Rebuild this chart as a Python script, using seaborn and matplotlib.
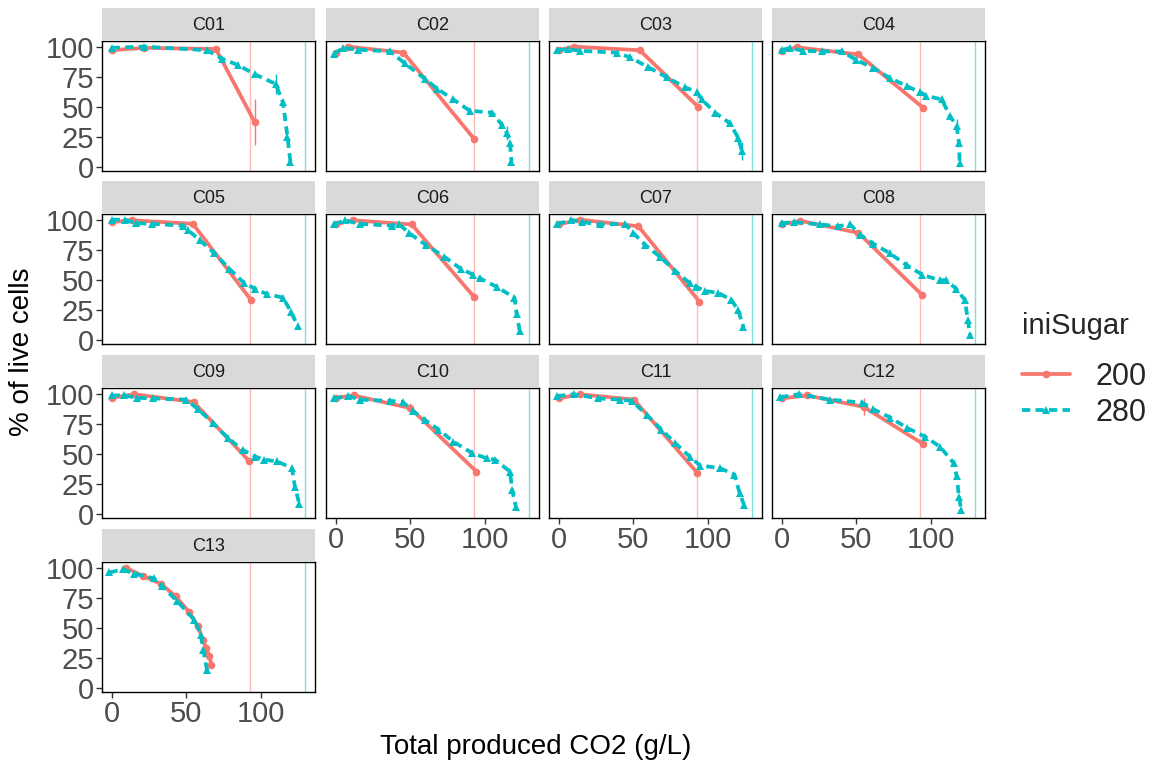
import numpy as np
import pandas as pd
import matplotlib
matplotlib.use("Agg")
import matplotlib.pyplot as plt
import seaborn as sns
from matplotlib.lines import Line2D

# ---------------- data ----------------
panels = ["C01", "C02", "C03", "C04", "C05", "C06", "C07",
          "C08", "C09", "C10", "C11", "C12", "C13"]
sugar_levels = ["200", "280"]
max_co2 = [93, 130]          # theoretical max CO2 per iniSugar (vertical lines)

x_c01_200 = [0, 22, 70, 96]
y_c01_200 = [97, 99, 98, 37]
x_c01_280 = [0, 21.5, 64, 74, 85, 96, 110, 115, 118, 120]
y_c01_280 = [99, 100, 97, 90, 84.5, 77, 69, 53.5, 25, 4]

x_c02_200 = [0, 8.5, 45.5, 93]
y_c02_200 = [95, 100, 95, 23]
x_c02_280 = [-1, 5, 15, 36.5, 46.5, 60, 68, 79, 90, 105, 111.5, 115, 117, 118]
y_c02_280 = [94, 99, 97.5, 96, 86, 73, 65, 56, 46.5, 45, 35, 28, 20, 4]

x_c03_200 = [0, 10, 54.5, 93.5]
y_c03_200 = [97, 100, 97, 50]
x_c03_280 = [-1, 6, 14, 39, 48, 60, 72.5, 85, 93, 96, 105, 115, 120.5, 123]
y_c03_280 = [97, 98, 96.5, 95, 91, 83, 74.5, 66, 62, 56, 45, 36, 24, 13]

x_c04_200 = [0, 10, 51.5, 95]
y_c04_200 = [96, 99.5, 93.5, 49]
x_c04_280 = [0, 5.5, 14.5, 27, 40.5, 50, 61.5, 72.5, 84, 93, 97, 107.5, 113, 117.5, 119, 119.5]
y_c04_280 = [97, 99, 96.5, 96, 96, 89, 82, 74, 67, 62, 59, 56, 42, 34, 20, 3]

x_c05_200 = [0, 13.5, 54.5, 93.5]
y_c05_200 = [98, 99.5, 96.5, 33]
x_c05_280 = [0, 9, 16, 27, 48, 51, 59, 69, 79, 89, 96, 104, 115, 120.5, 125]
y_c05_280 = [100, 100, 97, 96.5, 95, 91.5, 83, 72, 59, 47, 42.5, 38, 35, 23, 11]

x_c06_200 = [0, 11.5, 51, 93]
y_c06_200 = [96, 99.5, 96, 35.5]
x_c06_280 = [-1, 6, 16, 37.5, 42.5, 49, 60.5, 73, 84, 92.5, 97, 108, 120, 121.5, 123.5]
y_c06_280 = [96, 99.5, 96.5, 95, 96.5, 89, 79, 69, 59, 54, 51, 44, 35, 21.5, 7.5]

x_c07_200 = [0, 14, 53.5, 94.5]
y_c07_200 = [96, 100, 94.5, 31.5]
x_c07_280 = [-1, 8, 15.5, 27.5, 44.5, 50, 58, 68, 78, 88, 92.5, 98, 107, 116, 120.5, 124]
y_c07_280 = [96, 100, 98, 96, 96.5, 89, 79, 69, 57.5, 47, 44, 40.5, 39, 33, 24.5, 10.5]

x_c08_200 = [0, 12.5, 51.5, 94]
y_c08_200 = [96, 99, 89, 37.5]
x_c08_280 = [0, 8, 25.5, 37.5, 46, 52.5, 61.5, 72.5, 84, 94.5, 106, 110.5, 117, 123, 125, 126.5]
y_c08_280 = [97, 98, 96, 94.5, 96, 87.5, 80, 72, 62, 54, 49.5, 49.5, 42.5, 33, 16, 3.5]

x_c09_200 = [0, 15, 55, 92.5]
y_c09_200 = [96.5, 99.5, 93, 43.5]
x_c09_280 = [0, 8.5, 17, 28, 50, 58, 68, 78, 88, 96.5, 102, 111, 121, 123, 126]
y_c09_280 = [98.5, 98.5, 96.5, 96, 95, 87, 75.5, 63, 53, 47.5, 45, 43.5, 38, 22.5, 8]

x_c10_200 = [0, 12, 50, 94.5]
y_c10_200 = [96.5, 98.5, 88, 35]
x_c10_280 = [-1, 8.5, 16.5, 36.5, 45, 52, 60, 69, 79, 91.5, 101.5, 107, 117, 118.5, 121]
y_c10_280 = [96, 98, 95, 94, 93, 85.5, 78, 70, 60, 50.5, 46, 45, 35, 19.5, 5.5]

x_c11_200 = [0, 14, 50.5, 93]
y_c11_200 = [96, 99.5, 95, 34]
x_c11_280 = [-1, 10, 26.5, 41, 49, 59, 69, 78, 88, 95, 108, 118, 121.5, 124.5]
y_c11_280 = [98, 99.5, 96, 95, 94, 82.5, 70, 59, 47.5, 40, 38, 32.5, 17, 7]

x_c12_200 = [0, 17, 55, 95]
y_c12_200 = [96, 98.5, 89, 58]
x_c12_280 = [-1, 11.5, 32.5, 54, 61.5, 73, 84, 96.5, 106.5, 115.5, 117.5, 119, 120.5]
y_c12_280 = [97, 99.5, 95, 92.5, 87, 80, 71.5, 64, 55.5, 42, 31, 14, 3]

x_c13_200 = [9.5, 21, 33, 43, 52, 58, 61, 63.5, 65.5, 67]
y_c13_200 = [100, 93, 86.5, 76, 63, 51, 40, 33, 26, 19]
x_c13_280 = [-1.5, 7.5, 15, 28.5, 34, 44, 55.5, 60, 61.5, 64]
y_c13_280 = [96, 98.5, 95, 91, 84.5, 72, 56.5, 44, 31.5, 14.5]

# error bars (mean +/- sd)
err_panel = ["C01", "C01", "C02", "C03", "C04", "C12", "C10"]
err_sugar = ["200", "280", "280", "280", "280", "200", "200"]
err_x = [96, 110, 115, 123, 117.5, 55, 50]
err_y = [37, 69, 28, 13, 34, 89, 88]
err_sd = [19, 8.5, 6, 7.5, 6, 7, 4]

# ---------------- assemble long table ----------------
series = {
    "C01": (x_c01_200, y_c01_200, x_c01_280, y_c01_280),
    "C02": (x_c02_200, y_c02_200, x_c02_280, y_c02_280),
    "C03": (x_c03_200, y_c03_200, x_c03_280, y_c03_280),
    "C04": (x_c04_200, y_c04_200, x_c04_280, y_c04_280),
    "C05": (x_c05_200, y_c05_200, x_c05_280, y_c05_280),
    "C06": (x_c06_200, y_c06_200, x_c06_280, y_c06_280),
    "C07": (x_c07_200, y_c07_200, x_c07_280, y_c07_280),
    "C08": (x_c08_200, y_c08_200, x_c08_280, y_c08_280),
    "C09": (x_c09_200, y_c09_200, x_c09_280, y_c09_280),
    "C10": (x_c10_200, y_c10_200, x_c10_280, y_c10_280),
    "C11": (x_c11_200, y_c11_200, x_c11_280, y_c11_280),
    "C12": (x_c12_200, y_c12_200, x_c12_280, y_c12_280),
    "C13": (x_c13_200, y_c13_200, x_c13_280, y_c13_280),
}
rows = []
for p, (xa, ya, xb, yb) in series.items():
    for i, (xx, yy) in enumerate(zip(xa, ya)):
        rows.append((p, "200", i, xx, yy))
    for i, (xx, yy) in enumerate(zip(xb, yb)):
        rows.append((p, "280", i, xx, yy))
df = pd.DataFrame(rows, columns=["panel", "iniSugar", "order", "co2", "live"])
err = pd.DataFrame({"panel": err_panel, "iniSugar": err_sugar,
                    "co2": err_x, "live": err_y, "sd": err_sd})

# ---------------- style ----------------
sns.set_theme(style="white")
plt.rcParams["font.family"] = ["Liberation Sans", "DejaVu Sans"]

pal = {"200": "#F8766D", "280": "#00BFC4"}
markers = {"200": "o", "280": "^"}
dashes = {"200": "", "280": (2.2, 1.4)}
LW, MS = 2.7, 5.5

W, H = 1154, 765
fig = plt.figure(figsize=(W / 100, H / 100), dpi=100)
fig.patch.set_facecolor("white")

col_left = [102, 326, 549, 772]
row_top = [41, 214, 388, 562]
pw, ph, sh = 213, 130, 33

for i, p in enumerate(panels):
    r, c = divmod(i, 4)
    L, T = col_left[c], row_top[r]
    ax = fig.add_axes([L / W, 1 - (T + ph) / H, pw / W, ph / H])
    st = fig.add_axes([L / W, 1 - T / H, pw / W, sh / H])
    st.set_facecolor("#D9D9D9")
    st.set_xticks([]); st.set_yticks([])
    for s in st.spines.values():
        s.set_visible(False)
    st.text(0.5, 0.47, p, ha="center", va="center", fontsize=13, color="#1A1A1A",
            transform=st.transAxes)

    for lvl, mx in zip(sugar_levels, max_co2):
        ax.axvline(mx, color=pal[lvl], lw=1.0, alpha=0.5, zorder=1)

    sub = df[df.panel == p]
    sns.lineplot(data=sub, x="co2", y="live", hue="iniSugar", style="iniSugar",
                 palette=pal, markers=markers, dashes=dashes,
                 hue_order=sugar_levels, style_order=sugar_levels,
                 sort=False, estimator=None, linewidth=LW, markersize=MS,
                 markeredgewidth=0, legend=False, ax=ax, zorder=3)
    e = err[err.panel == p]
    for _, row in e.iterrows():
        ax.errorbar(row.co2, row.live, yerr=row.sd, fmt="none",
                    ecolor=pal[row.iniSugar], elinewidth=1.0, capsize=0, zorder=2)

    ax.set_xlim(-6.5, 136.5)
    ax.set_ylim(-3.7, 104.7)
    ax.set_xlabel(""); ax.set_ylabel("")
    ax.set_facecolor("white")
    for s in ax.spines.values():
        s.set_visible(True)
        s.set_color("black")
        s.set_linewidth(1.0)
    ax.set_yticks([0, 25, 50, 75, 100])
    ax.set_xticks([0, 50, 100])
    show_y = (c == 0)
    show_x = (i + 4 >= len(panels))
    ax.tick_params(axis="y", left=show_y, labelleft=show_y, length=4, width=1,
                   color="#333333", labelcolor="#4D4D4D", labelsize=21, pad=2)
    ax.tick_params(axis="x", bottom=show_x, labelbottom=show_x, length=4, width=1,
                   color="#333333", labelcolor="#4D4D4D", labelsize=21, pad=2)

fig.text(536 / W, 1 - 747 / H, "Total produced CO2 (g/L)", ha="center", va="center",
         fontsize=20, color="black")
fig.text(22 / W, 1 - 352 / H, "% of live cells", ha="center", va="center",
         rotation=90, fontsize=20, color="black")

handles = [Line2D([0], [0], color=pal[l], marker=markers[l], lw=LW, markersize=MS,
                  markeredgewidth=0, linestyle="-" if l == "200" else (0, (2.2, 1.4)))
           for l in sugar_levels]
leg = fig.legend(handles, sugar_levels, title="iniSugar", loc="center left",
                 bbox_to_anchor=(1010 / W, 1 - 370 / H), frameon=False, fontsize=22,
                 title_fontsize=21, handlelength=1.55, handletextpad=0.85,
                 labelspacing=0.2, borderaxespad=0, alignment="left")
leg._legend_box.sep = 16

fig.savefig("out.png", dpi=100)
